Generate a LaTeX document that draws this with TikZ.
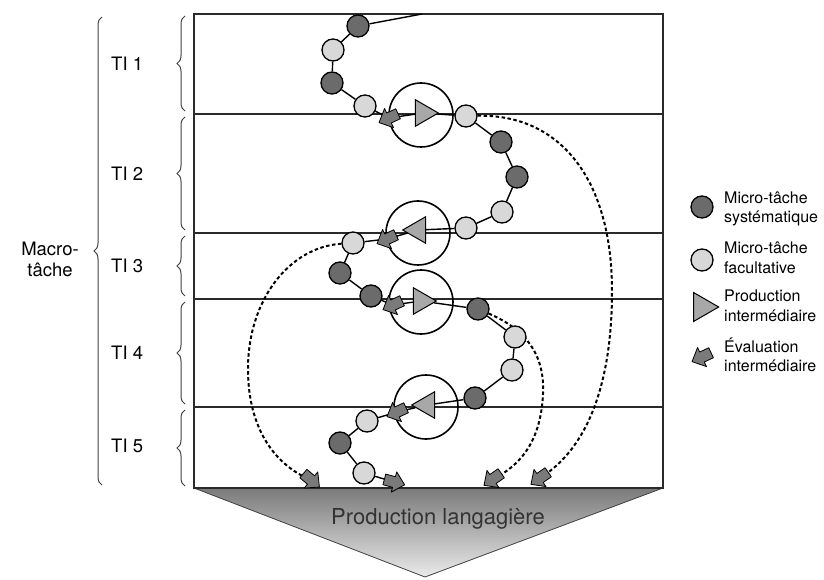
\documentclass[tikz,border=0pt]{standalone}
\usepackage{fontspec}
\setmainfont{TeX Gyre Heros}
\usetikzlibrary{shapes.geometric,decorations.pathreplacing}
\pgfdeclarelayer{back}
\pgfdeclarelayer{mid}
\pgfsetlayers{back,mid,main}
\definecolor{darkg}{HTML}{6B6B6B}
\definecolor{lightg}{HTML}{D8D8D8}
\definecolor{trig}{HTML}{A8A8A8}
\definecolor{evalg}{HTML}{7A7A7A}
\definecolor{framec}{HTML}{2A2A2A}
\tikzset{
  sys/.style={circle, draw, line width=1.3pt, fill=darkg, minimum size=22pt, inner sep=0pt},
  fac/.style={circle, draw, line width=1.3pt, fill=lightg, minimum size=22pt, inner sep=0pt},
  bigc/.style={circle, draw, line width=1.6pt, minimum size=64pt, inner sep=0pt},
  prodR/.style={isosceles triangle, isosceles triangle apex angle=60, draw, line width=1pt,
                fill=trig, minimum height=23pt, inner sep=0pt},
  prodL/.style={prodR, shape border rotate=180},
  chainline/.style={line width=1.4pt},
  dashconn/.style={line width=2pt, dash pattern=on 3.5pt off 2.5pt},
  frameline/.style={line width=1.1pt, draw=framec},
  bracestyle/.style={decorate, decoration={brace, amplitude=8pt}, line width=1pt, draw=black!75},
  lbl/.style={font=\fontsize{18.5}{21}\selectfont, inner sep=0pt},
  leg/.style={font=\fontsize{16}{19.5}\selectfont, align=left, anchor=west, inner sep=0pt},
  evalm/.pic={\draw[line width=0.8pt, fill=evalg, line join=round]
     (-10,-5.5) -- (0,-5.5) -- (0,-10.5) -- (11,0) -- (0,10.5) -- (0,5.5) -- (-10,5.5) -- cycle;}
}
\begin{document}
\begin{tikzpicture}[x=1pt,y=1pt]
\useasboundingbox (0,0) rectangle (824,579);

% frame and bands
\begin{pgfonlayer}{back}
  \shade[top color=black!52, bottom color=black!8] (194,91) -- (663,91) -- (425,2) -- cycle;
  \draw[line width=0.8pt, draw=black!75] (194,91) -- (425,2) -- (663,91);
  \draw[frameline] (194,91) rectangle (663,565);
  \draw[frameline] (194,465) -- (663,465);
  \draw[frameline] (194,346) -- (663,346);
  \draw[frameline] (194,280) -- (663,280);
  \draw[frameline] (194,172) -- (663,172);
\end{pgfonlayer}

% chain nodes
\coordinate (s0) at (422,565);
\node[sys] (d1) at (358,553) {};
\node[fac] (l1) at (333,529) {};
\node[sys] (d2) at (332,496) {};
\node[fac] (l2) at (365,473) {};
\coordinate (e1) at (389,461);
\node[bigc] (C1) at (421,464) {};
\node[prodR] (T1) at (423,466) {};
\node[fac] (l3) at (466,463) {};
\node[sys] (d3) at (501,437) {};
\node[sys] (d4) at (517,402) {};
\node[fac] (l4) at (502,367) {};
\node[fac] (l5) at (466,351) {};
\node[bigc] (C2) at (418,346) {};
\node[prodL] (T2) at (418,349) {};
\coordinate (e2) at (387,340);
\node[fac] (l6) at (353,336) {};
\node[sys] (d5) at (340,306) {};
\node[sys] (d6) at (371,283) {};
\coordinate (e3) at (393,274);
\node[bigc] (C3) at (421,277) {};
\node[prodR] (T3) at (421,278) {};
\node[sys] (d7) at (478,270) {};
\node[fac] (l7) at (515,242) {};
\node[fac] (l8) at (512,209) {};
\node[sys] (d8) at (475,181) {};
\node[bigc] (C4) at (426,172) {};
\node[prodL] (T4) at (427,174) {};
\coordinate (e4) at (397,167);
\node[fac] (l9) at (367,158) {};
\node[sys] (d9) at (340,136) {};
\node[fac] (l10) at (364,106) {};
\coordinate (e5) at (394,97);
\coordinate (eA) at (540,101);
\coordinate (eB) at (493,100);
\coordinate (eC) at (311,99);

\begin{pgfonlayer}{mid}
  \draw[chainline] (s0) -- (d1) -- (l1) -- (d2) -- (l2) -- (e1) -- (T1) -- (l3)
     -- (d3) -- (d4) -- (l4) -- (l5) -- (T2) -- (e2) -- (l6) -- (d5) -- (d6)
     -- (e3) -- (T3) -- (d7) -- (l7) -- (l8) -- (d8) -- (T4) -- (e4) -- (l9)
     -- (d9) -- (l10) -- (e5);
  \draw[dashconn] (l3) .. controls (560,465) and (612,400) .. (612,288)
     .. controls (612,200) and (590,132) .. (eA);
  \draw[dashconn] (d7) .. controls (525,250) and (545,225) .. (543,185)
     .. controls (541,140) and (522,114) .. (eB);
  \draw[dashconn] (l6) .. controls (290,332) and (248,280) .. (248,210)
     .. controls (248,150) and (275,114) .. (eC);
\end{pgfonlayer}

% evaluation marks
\pic[rotate=205] at (e1) {evalm};
\pic[rotate=205] at (e2) {evalm};
\pic[rotate=205] at (e3) {evalm};
\pic[rotate=205] at (e4) {evalm};
\pic[rotate=-15] at (e5) {evalm};
\pic[rotate=215] at (eA) {evalm};
\pic[rotate=215] at (eB) {evalm};
\pic[rotate=-40] at (eC) {evalm};

% bottom label
\node[font=\fontsize{22}{26}\selectfont, text=black!80] (pl) at (438,60) {Production langagière};

% braces and labels
\draw[bracestyle] (102,94) -- (102,562);
\draw[bracestyle] (185,468) -- (185,563);
\draw[bracestyle] (185,349) -- (185,462);
\draw[bracestyle] (185,283) -- (185,343);
\draw[bracestyle] (185,175) -- (185,277);
\draw[bracestyle] (185,93) -- (185,169);
\node[lbl, anchor=west] (ti1) at (111,515) {TI 1};
\node[lbl, anchor=west] (ti2) at (111,405) {TI 2};
\node[lbl, anchor=west] (ti3) at (111,313) {TI 3};
\node[lbl, anchor=west] (ti4) at (111,226) {TI 4};
\node[lbl, anchor=west] (ti5) at (111,133) {TI 5};
\node[lbl, align=center] (macro) at (50,320) {Macro-\\tâche};

% legend
\node[sys] (lgs) at (702,372) {};
\node[leg] (lgst) at (724,370) {Micro-tâche\\systématique};
\node[fac] (lgf) at (702,319) {};
\node[leg] (lgft) at (724,321) {Micro-tâche\\facultative};
\node[prodR, minimum height=25pt] (lgp) at (702,272) {};
\node[leg] (lgpt) at (724,273) {Production\\intermédiaire};
\coordinate (lge) at (702,222);
\pic[rotate=205] at (lge) {evalm};
\node[leg] (lget) at (724,224) {Évaluation\\intermédiaire};
\end{tikzpicture}
\end{document}
